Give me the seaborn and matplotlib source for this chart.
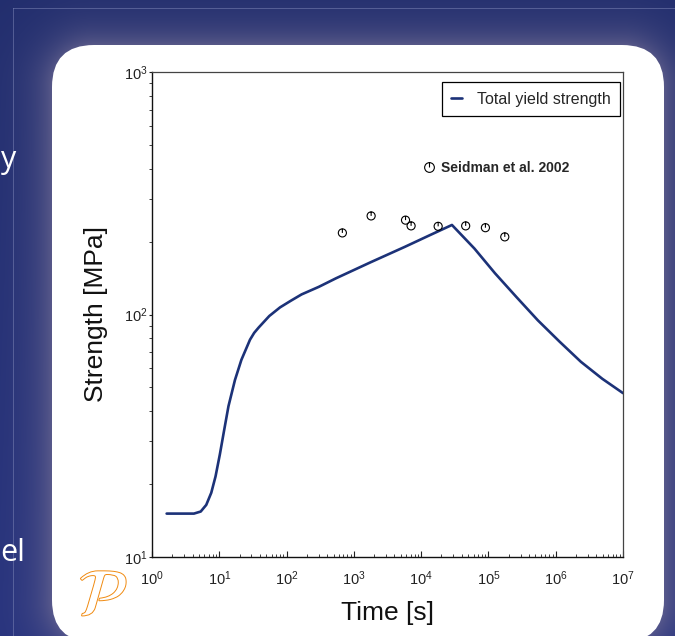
import numpy as np
import matplotlib
matplotlib.use("Agg")
import matplotlib.pyplot as plt
import matplotlib.patheffects as pe
import seaborn as sns
from matplotlib.path import Path
from matplotlib.patches import FancyBboxPatch
from matplotlib.lines import Line2D

# Model curve: total yield strength vs ageing time
time_model = [1.65, 4.2, 5.3, 6.4, 7.6, 8.8, 10.2, 11.8, 13.7, 17.1, 21.3, 28.6,
              33.0, 38.4, 55.4, 80, 116, 167, 301, 542, 1757, 5700, 13770,
              28700, 62000, 125000, 261000, 543000, 1.14e6, 2.37e6, 4.93e6, 1e7]
strength_model = [15.1, 15.1, 15.4, 16.4, 18.4, 21.5, 26.5, 33.3, 41.9, 53.7,
                  65.0, 78.7, 84.0, 88.3, 98.6, 107, 114, 121, 130, 141, 164,
                  190, 213, 234, 187, 148, 118, 94.6, 77.3, 63.8, 54.3, 47.4]

# Experimental data (Seidman et al. 2002)
time_exp = [675, 1806, 5860, 7090, 17900, 45900, 90200, 175000]
strength_exp = [217, 255, 245, 232, 231, 232, 228, 209]

W, H = 675, 636
fig = plt.figure(figsize=(W / 100, H / 100), dpi=100)

# slide background
bg = fig.add_axes([0, 0, 1, 1], zorder=-5)
yy, xx = np.mgrid[0:H, 0:W] + 0.5
x0, x1, y0, y1, r = 52, 664, 45, 642, 42
dx = np.maximum(np.maximum(x0 + r - xx, xx - (x1 - r)), 0)
dy = np.maximum(np.maximum(y0 + r - yy, yy - (y1 - r)), 0)
d = np.sqrt(dx ** 2 + dy ** 2) - r
glow = np.exp(-np.clip(d, 0, None) / 20.0) * 0.7
navy = np.array([0x27, 0x33, 0x7e]) / 255
navy_top = np.array([0x22, 0x2e, 0x6e]) / 255
purple = np.array([0x6e, 0x6a, 0x92]) / 255
vert = (yy / H)[..., None]
base = navy_top * (1 - vert) + navy * vert
img = base * (1 - glow[..., None]) + purple * glow[..., None]
bg.imshow(img, extent=[0, W, H, 0], interpolation="bilinear")
bg.set_xlim(0, W)
bg.set_ylim(H, 0)
bg.axis("off")
bg.plot([13, 13], [8, H], color="#8088b8", lw=0.6, alpha=0.6)
bg.plot([13, W], [8, 8], color="#8088b8", lw=0.6, alpha=0.6)
bg.add_patch(FancyBboxPatch((x0, y0), x1 - x0, y1 - y0,
                            boxstyle=f"round,pad=0,rounding_size={r}",
                            facecolor="white", edgecolor="none"))
bg.text(1, 160, "y", color="white", fontsize=22, family="Open Sans",
        ha="left", va="center")
bg.text(0.5, 553, "el", color="white", fontsize=22, family="Open Sans",
        ha="left", va="center")
bg.text(103, 597, r"$\mathcal{P}$", color="white", fontsize=48,
        ha="center", va="center",
        path_effects=[pe.withStroke(linewidth=1.4, foreground="#f08a10")])

sns.set_style("ticks")
plt.rcParams["font.family"] = ["Liberation Sans", "DejaVu Sans"]
plt.rcParams["mathtext.fontset"] = "custom"
plt.rcParams["mathtext.rm"] = "Liberation Sans"

ax = fig.add_axes([152 / W, 1 - 557 / H, 471 / W, 485 / H])
ax.set_facecolor("none")

sns.lineplot(x=time_model, y=strength_model, ax=ax, color="#1c3278",
             lw=1.9, label="Total yield strength", sort=False)

# circle with a tick from the top, like the original symbol
circ = Path.unit_circle()
verts = np.concatenate([circ.vertices, [[0, 1], [0, 0]]])
codes = np.concatenate([circ.codes, [Path.MOVETO, Path.LINETO]])
sym = Path(verts, codes)

sns.scatterplot(x=time_exp, y=strength_exp, ax=ax, marker=sym, s=34,
                facecolor="none", edgecolor="black", linewidth=0.8, zorder=3)

ax.set_xscale("log")
ax.set_yscale("log")
ax.set_xlim(1, 1e7)
ax.set_ylim(10, 1000)
ax.set_xticks([10 ** k for k in range(8)])
ax.set_yticks([10, 100, 1000])

ax.set_xlabel("Time [s]", fontsize=19, color="#111111", labelpad=9)
ax.set_ylabel("Strength [MPa]", fontsize=19, color="#111111", labelpad=12)

for side in ["left", "bottom"]:
    ax.spines[side].set_color("#111111")
    ax.spines[side].set_linewidth(1.0)
for side in ["top", "right"]:
    ax.spines[side].set_visible(True)
    ax.spines[side].set_color("#444444")
    ax.spines[side].set_linewidth(0.9)

ax.tick_params(axis="x", which="both", direction="in", labelsize=10.5,
               colors="#222222", pad=9)
ax.tick_params(axis="x", which="major", length=4)
ax.tick_params(axis="x", which="minor", length=2.5)
ax.tick_params(axis="y", which="both", direction="out", labelsize=10.5,
               colors="#222222", pad=1)
ax.tick_params(axis="y", which="major", length=2)
ax.tick_params(axis="y", which="minor", length=2)

leg = ax.legend(loc="upper right", bbox_to_anchor=(0.994, 0.979),
                borderaxespad=0, fancybox=False, edgecolor="black",
                fontsize=11.5, handlelength=0.7, handletextpad=0.9,
                borderpad=0.6, framealpha=1)
leg.get_frame().set_linewidth(0.9)
ax.add_artist(leg)

h_exp = Line2D([], [], marker=sym, ls="none", markersize=7,
               markerfacecolor="none", markeredgecolor="black",
               markeredgewidth=0.8)
leg2 = ax.legend([h_exp], ["Seidman et al. 2002"], loc="center left",
                 bbox_to_anchor=(0.576, 0.802), borderaxespad=0, borderpad=0,
                 frameon=False, handlelength=0.8, handletextpad=0.45,
                 prop={"weight": "bold", "size": 10})

fig.savefig("out.png", dpi=100)
